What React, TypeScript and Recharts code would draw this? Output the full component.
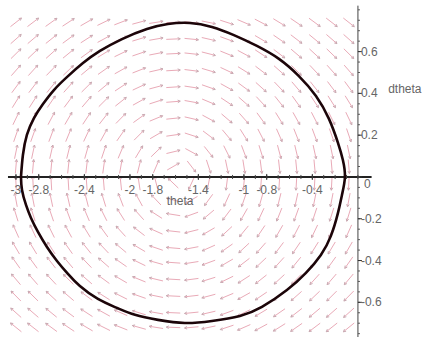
import React from "react";
import { ComposedChart, Scatter, XAxis, YAxis } from "recharts";

// ---- data ----
const ORBIT_THETA = [
  -2.956, -2.939, -2.904, -2.842, -2.763, -2.667, -2.553, -2.412, -2.263, -2.07,
  -1.851, -1.667, -1.474, -1.281, -1.088, -0.886, -0.693, -0.518, -0.368, -0.254,
  -0.175, -0.132, -0.114, -0.14, -0.175, -0.237, -0.325, -0.456, -0.623, -0.842,
  -1.035, -1.281, -1.518, -1.754, -1.956, -2.114, -2.281, -2.439, -2.544, -2.64,
  -2.728, -2.807, -2.868, -2.912, -2.947, -2.956,
];
const ORBIT_OMEGA = [
  0, 0.105, 0.201, 0.282, 0.349, 0.416, 0.478, 0.545, 0.603, 0.66,
  0.708, 0.732, 0.737, 0.718, 0.679, 0.627, 0.565, 0.483, 0.388, 0.278,
  0.163, 0.081, 0, -0.086, -0.172, -0.282, -0.373, -0.459, -0.541, -0.622,
  -0.665, -0.689, -0.699, -0.684, -0.66, -0.627, -0.584, -0.522, -0.464, -0.402,
  -0.335, -0.263, -0.196, -0.134, -0.062, 0,
];

// direction-field grid (20 x 20)
const THETA_GRID = [
  -3.0, -2.85, -2.69, -2.54, -2.38, -2.23, -2.08, -1.92, -1.77, -1.62,
  -1.46, -1.31, -1.15, -1.0, -0.85, -0.69, -0.54, -0.38, -0.23, -0.08,
];
const OMEGA_GRID = [
  0.74, 0.66, 0.59, 0.51, 0.43, 0.36, 0.28, 0.2, 0.12, 0.05,
  -0.03, -0.11, -0.18, -0.26, -0.34, -0.41, -0.49, -0.57, -0.65, -0.72,
];
const FIELD_K = 0.32; // theta'' = -K cos(theta)

const X_TICK_VALUES = [-3, -2.8, -2.4, -2, -1.8, -1.4, -1, -0.8, -0.4];
const X_TICK_LABELS = ["-3", "-2.8", "-2.4", "-2", "-1.8", "-1.4", "-1", "-0.8", "-0.4"];
const Y_TICK_VALUES = [0.6, 0.4, 0.2, 0, -0.2, -0.4, -0.6];
const Y_TICK_LABELS = ["0.6", "0.4", "0.2", "0", "-0.2", "-0.4", "-0.6"];
const X_LABEL = "theta";
const Y_LABEL = "dtheta";

// ---- layout ----
const W = 427;
const H = 337;
const XMIN = -3.14;
const XMAX = 0.606;
const YMIN = -0.766;
const YMAX = 0.847;
const SX = W / (XMAX - XMIN);
const SY = H / (YMAX - YMIN);

const FONT = "'Liberation Sans Narrow', 'Liberation Sans', Arial, sans-serif";

const orbitData = ORBIT_THETA.map((t, i) => ({ x: t, y: ORBIT_OMEGA[i] }));

const fieldData: { x: number; y: number; dx: number; dy: number }[] = [];
THETA_GRID.forEach((t) => {
  OMEGA_GRID.forEach((w) => {
    fieldData.push({ x: t, y: w, dx: w, dy: -FIELD_K * Math.cos(t) });
  });
});

const xAxisLine = [
  { x: -3.07, y: 0 },
  { x: 0.12, y: 0 },
];
const yAxisLine = [
  { x: 0, y: 0.82 },
  { x: 0, y: YMIN },
];

const xMinor: { x: number; y: number }[] = [];
for (let v = -30; v <= 0; v += 1) xMinor.push({ x: v / 10, y: 0 });
const yMinor: { x: number; y: number }[] = [];
for (let v = -15; v <= 16; v += 1) yMinor.push({ x: 0, y: v / 20 });

const xTickData = X_TICK_VALUES.map((v, i) => ({ x: v, y: 0, label: X_TICK_LABELS[i] }));
const yTickData = Y_TICK_VALUES.map((v, i) => ({ x: 0, y: v, label: Y_TICK_LABELS[i] }));

const Arrow = (props: any) => {
  const { cx, cy, payload } = props;
  if (cx == null || cy == null) return null;
  const px = payload.dx * SX;
  const py = -payload.dy * SY;
  const len = Math.hypot(px, py) || 1;
  const ux = px / len;
  const uy = py / len;
  const L = 7;
  const x1 = cx - ux * L;
  const y1 = cy - uy * L;
  const x2 = cx + ux * L;
  const y2 = cy + uy * L;
  const hx = -ux * 2.5;
  const hy = -uy * 2.5;
  const nx = -uy * 1.3;
  const ny = ux * 1.3;
  return (
    <g>
      <line x1={x1} y1={y1} x2={x2} y2={y2} stroke="#e9aab7" strokeWidth={1} />
      <path
        d={`M${x2 + hx + nx},${y2 + hy + ny} L${x2},${y2} L${x2 + hx - nx},${y2 + hy - ny}`}
        fill="none"
        stroke="#c8aab2"
        strokeWidth={1}
      />
    </g>
  );
};

const XTick = (props: any) => {
  const { cx, cy, payload } = props;
  return (
    <g>
      <line x1={cx} y1={cy - 3} x2={cx} y2={cy + 3} stroke="#333" strokeWidth={1} />
      <text x={cx} y={cy + 17} textAnchor="middle" fontSize={12} fontFamily={FONT} fill="#666">
        {payload.label}
      </text>
    </g>
  );
};

const YTick = (props: any) => {
  const { cx, cy, payload } = props;
  const zero = payload.y === 0;
  return (
    <g>
      <line x1={cx} y1={cy} x2={cx + 4} y2={cy} stroke="#333" strokeWidth={1} />
      <text
        x={cx + (zero ? 6 : 3)}
        y={cy + (zero ? 11 : 4)}
        textAnchor="start"
        fontSize={12}
        fontFamily={FONT}
        fill="#666"
      >
        {payload.label}
      </text>
    </g>
  );
};

const XMinorTick = (props: any) => {
  const { cx, cy } = props;
  return <line x1={cx} y1={cy - 2} x2={cx} y2={cy + 2} stroke="#444" strokeWidth={1} />;
};
const YMinorTick = (props: any) => {
  const { cx, cy } = props;
  return <line x1={cx} y1={cy} x2={cx + 2} y2={cy} stroke="#555" strokeWidth={1} />;
};

const XLabel = (props: any) => {
  const { cx, cy } = props;
  return (
    <text x={cx} y={cy} textAnchor="middle" fontSize={12} fontFamily={FONT} fill="#666">
      {X_LABEL}
    </text>
  );
};
const YLabel = (props: any) => {
  const { cx, cy } = props;
  return (
    <text x={cx} y={cy} textAnchor="start" fontSize={12} fontFamily={FONT} fill="#666">
      {Y_LABEL}
    </text>
  );
};

const none = () => null;

export default function App() {
  return (
    <div style={{ position: "absolute", left: 0, top: 0, width: W, height: H, background: "#fff" }}>
      <ComposedChart width={W} height={H} margin={{ top: 0, right: 0, bottom: 0, left: 0 }}>
        <XAxis type="number" dataKey="x" domain={[XMIN, XMAX]} hide allowDataOverflow />
        <YAxis type="number" dataKey="y" domain={[YMIN, YMAX]} hide allowDataOverflow />
        <Scatter data={fieldData} shape={Arrow} isAnimationActive={false} />
        <Scatter
          data={xAxisLine}
          line={{ stroke: "#222", strokeWidth: 2 }}
          shape={none}
          isAnimationActive={false}
        />
        <Scatter
          data={yAxisLine}
          line={{ stroke: "#444", strokeWidth: 1 }}
          shape={none}
          isAnimationActive={false}
        />
        <Scatter data={xMinor} shape={XMinorTick} isAnimationActive={false} />
        <Scatter data={yMinor} shape={YMinorTick} isAnimationActive={false} />
        <Scatter data={xTickData} shape={XTick} isAnimationActive={false} />
        <Scatter data={yTickData} shape={YTick} isAnimationActive={false} />
        <Scatter data={[{ x: -1.56, y: -0.135 }]} shape={XLabel} isAnimationActive={false} />
        <Scatter data={[{ x: 0.265, y: 0.4 }]} shape={YLabel} isAnimationActive={false} />
        <Scatter
          data={orbitData}
          line={{ stroke: "#1c0509", strokeWidth: 2.6 }}
          lineJointType="natural"
          shape={none}
          isAnimationActive={false}
        />
      </ComposedChart>
    </div>
  );
}
